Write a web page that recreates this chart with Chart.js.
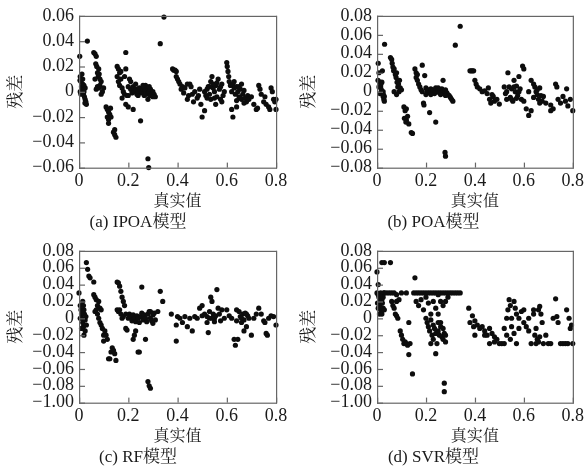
<!DOCTYPE html>
<html><head><meta charset="utf-8">
<script src="https://cdn.jsdelivr.net/npm/chart.js@4.4.0/dist/chart.umd.min.js"></script>
<style>html,body{margin:0;padding:0;background:#fff;}canvas{position:absolute}</style>
</head><body>
<canvas id="ca" width="293" height="235" style="left:0;top:0"></canvas>
<canvas id="cb" width="294" height="235" style="left:293px;top:0"></canvas>
<canvas id="cc" width="293" height="236" style="left:0;top:235px"></canvas>
<canvas id="cd" width="294" height="236" style="left:293px;top:235px"></canvas>
<script>
const captions = ['(a) IPOA模型', '(b) POA模型', '(c) RF模型', '(d) SVR模型'];
const xTitle = '真实值';
const yTitle = '残差';
const xTickValues = [0, 0.2, 0.4, 0.6, 0.8];
const xTickLabels = ['0', '0.2', '0.4', '0.6', '0.8'];
const yTickValuesA = [-0.06, -0.04, -0.02, 0, 0.02, 0.04, 0.06];
const yTickLabelsA = ['−0.06', '−0.04', '−0.02', '0', '0.02', '0.04', '0.06'];
const yTickValuesB = [-0.08, -0.06, -0.04, -0.02, 0, 0.02, 0.04, 0.06, 0.08];
const yTickLabelsB = ['−0.08', '−0.06', '−0.04', '−0.02', '0', '0.02', '0.04', '0.06', '0.08'];
const yTickValuesCD = [-0.1, -0.08, -0.06, -0.04, -0.02, 0, 0.02, 0.04, 0.06, 0.08];
const yTickLabelsCD = ['−1.00', '−0.08', '−0.06', '−0.04', '−0.02', '0', '0.02', '0.04', '0.06', '0.08'];

// [真实值, 残差]
const ipoaPoints = [[0.003,0.028],[0.005,0.012],[0.008,0.008],[0.01,0.004],[0.012,0.002],[0.015,0.006],[0.018,-0.002],[0.02,0],[0.02,0.005],[0.022,-0.004],[0.025,-0.006],[0.025,0.003],[0.028,-0.008],[0.03,-0.01],[0.012,0.014],[0.015,0.01],[0.018,0.001],[0.005,0.0],[0.008,-0.002],[0.004,0.009],[0.034,0.04],[0.024,-0.009],
[0.06,0.031],[0.065,0.03],[0.07,0.028],[0.068,0.022],[0.072,0.02],[0.075,0.015],[0.078,0.012],[0.08,0.018],[0.085,0.01],[0.09,0.008],[0.075,0.004],[0.07,0.002],[0.08,0.003],[0.085,0.005],[0.09,-0.002],[0.095,0.0],[0.065,0.01],[0.1,0.003],[0.082,0.014],
[0.11,-0.012],[0.115,-0.014],[0.12,-0.016],[0.115,-0.02],[0.12,-0.022],[0.125,-0.018],[0.13,-0.02],[0.12,-0.025],[0.14,-0.032],[0.145,-0.034],[0.15,-0.036],[0.145,-0.03],[0.128,-0.013],
[0.155,0.02],[0.16,0.018],[0.165,0.015],[0.155,0.012],[0.16,0.008],[0.165,0.005],[0.17,0.01],[0.175,0.003],[0.18,0.0],[0.185,-0.002],[0.19,0.031],[0.185,0.012],[0.19,0.018],[0.195,-0.003],[0.19,-0.01],[0.2,-0.012],[0.2,-0.003],[0.175,-0.005],[0.2,0.004],[0.17,0.016],
[0.205,0.01],[0.21,0.008],[0.21,0.002],[0.215,-0.001],[0.22,0.004],[0.225,0.0],[0.23,0.002],[0.235,-0.002],[0.24,0.001],[0.245,0.003],[0.25,0.0],[0.255,-0.001],[0.26,0.002],[0.265,0.004],[0.27,0.001],[0.275,-0.002],[0.28,0.003],[0.285,0.0],[0.29,0.002],[0.295,-0.003],[0.3,0.0],[0.305,-0.002],[0.31,-0.004],[0.22,-0.014],[0.25,-0.023],[0.28,-0.006],[0.265,-0.003],[0.24,-0.003],[0.23,0.006],[0.27,0.005],[0.29,-0.003],[0.3,-0.004],[0.26,0.005],[0.285,0.004],
[0.28,-0.053],[0.283,-0.06],[0.33,0.038],[0.345,0.059],
[0.38,0.018],[0.385,0.017],[0.39,0.017],[0.395,0.016],[0.4,0.01],[0.395,0.012],[0.405,0.008],[0.41,0.006],[0.42,0.004],[0.415,0.002],[0.425,-0.001],[0.43,0.003],[0.44,0.006],[0.445,-0.003],[0.45,0.006],[0.455,0.004],[0.46,-0.002],[0.465,-0.008],[0.47,0.0],[0.48,-0.005],[0.485,-0.003],[0.49,0.002],[0.495,-0.01],[0.5,-0.02],[0.44,-0.006],
[0.51,0.0],[0.515,-0.003],[0.52,0.002],[0.525,0.004],[0.53,-0.002],[0.535,0.008],[0.54,0.012],[0.545,0.003],[0.55,0.0],[0.555,0.005],[0.56,-0.004],[0.565,0.01],[0.57,0.002],[0.575,-0.006],[0.58,0.006],[0.585,-0.003],[0.59,0.0],[0.535,-0.006],[0.55,-0.005],[0.53,0.004],[0.52,-0.005],[0.545,0.006],[0.56,0.007],[0.575,0.004],[0.58,-0.008],[0.555,-0.01],[0.51,-0.015],
[0.6,0.023],[0.602,0.02],[0.605,0.016],[0.608,0.012],[0.61,0.008],[0.615,0.005],[0.62,0.0],[0.625,0.006],[0.63,0.003],[0.635,-0.002],[0.64,0.004],[0.645,0.0],[0.65,-0.004],[0.655,0.002],[0.66,-0.006],[0.665,-0.002],[0.67,0.001],[0.675,-0.005],[0.68,-0.008],[0.685,-0.003],[0.69,-0.006],[0.62,-0.014],[0.625,-0.02],[0.64,-0.012],[0.65,0.004],[0.66,0.006],[0.67,-0.009],[0.655,-0.005],[0.64,-0.007],[0.63,0.008],
[0.7,-0.004],[0.71,-0.01],[0.72,-0.014],[0.725,-0.013],[0.73,0.005],[0.735,0.002],[0.74,-0.002],[0.75,-0.008],[0.755,-0.004],[0.76,-0.01],[0.77,-0.012],[0.775,-0.014],[0.78,0.003],[0.785,0.0],[0.79,-0.006],[0.795,-0.008],[0.8,-0.014],[0.8,-0.006]];

const poaPoints = [[0.005,0.03],[0.008,0.02],[0.012,0.01],[0.015,0.005],[0.02,0.0],[0.022,0.022],[0.025,-0.005],[0.028,-0.008],[0.03,-0.01],[0.008,0.005],[0.018,0.002],[0.02,0.01],[0.025,0.0],[0.03,-0.005],[0.012,-0.002],[0.004,0.012],[0.016,0.008],[0.026,-0.003],[0.031,0.05],
[0.055,0.036],[0.06,0.034],[0.062,0.03],[0.065,0.026],[0.07,0.024],[0.075,0.018],[0.078,0.015],[0.08,0.02],[0.082,0.01],[0.085,0.005],[0.088,0.008],[0.09,0.0],[0.092,0.012],[0.095,0.004],[0.07,0.0],[0.08,-0.003],[0.1,0.002],[0.068,0.022],
[0.11,-0.016],[0.115,-0.02],[0.12,-0.018],[0.112,-0.028],[0.12,-0.03],[0.125,-0.026],[0.13,-0.034],[0.14,-0.043],[0.145,-0.044],[0.118,-0.032],
[0.155,0.024],[0.16,0.02],[0.16,0.015],[0.165,0.012],[0.17,0.008],[0.175,0.005],[0.18,0.002],[0.185,0.028],[0.185,0.0],[0.19,-0.012],[0.192,-0.014],[0.195,0.017],[0.2,0.004],[0.2,-0.003],[0.215,-0.022],[0.24,-0.032],[0.165,0.018],
[0.205,0.0],[0.21,0.002],[0.215,-0.001],[0.22,0.003],[0.225,0.0],[0.23,0.002],[0.235,-0.002],[0.24,0.001],[0.245,0.003],[0.25,0.0],[0.255,-0.001],[0.26,0.002],[0.265,0.003],[0.27,0.012],[0.27,0.0],[0.275,-0.002],[0.28,0.002],[0.285,-0.001],[0.29,-0.003],[0.295,-0.004],[0.3,-0.006],[0.305,-0.008],[0.31,-0.01],[0.22,-0.003],[0.24,0.004],[0.26,-0.003],[0.28,-0.004],[0.25,0.004],
[0.278,-0.064],[0.28,-0.068],[0.32,0.049],[0.34,0.069],
[0.38,0.022],[0.385,0.022],[0.39,0.022],[0.395,0.022],[0.4,0.012],[0.405,0.008],[0.41,0.005],[0.42,0.003],[0.43,0.0],[0.44,0.001],[0.45,-0.002],[0.455,0.004],[0.46,-0.008],[0.47,-0.003],[0.475,-0.005],[0.48,-0.01],[0.49,-0.008],[0.5,-0.013],[0.465,-0.012],
[0.52,0.005],[0.53,0.0],[0.535,0.02],[0.54,0.005],[0.545,-0.006],[0.55,0.003],[0.555,-0.01],[0.56,0.012],[0.565,0.0],[0.57,0.006],[0.575,-0.004],[0.58,0.016],[0.585,0.003],[0.59,-0.008],[0.595,0.027],[0.6,0.024],[0.6,-0.01],[0.53,-0.008],[0.55,-0.008],[0.56,0.005],[0.525,-0.002],[0.57,-0.007],[0.58,0.0],
[0.61,-0.018],[0.62,-0.025],[0.63,-0.02],[0.64,0.008],[0.645,0.005],[0.65,0.0],[0.655,-0.003],[0.66,-0.008],[0.665,0.004],[0.67,-0.004],[0.675,-0.01],[0.68,-0.005],[0.69,-0.012],[0.64,-0.006],[0.655,0.002],[0.665,-0.012],[0.62,0.0],[0.63,0.012],
[0.71,-0.014],[0.72,-0.018],[0.73,0.008],[0.735,0.005],[0.74,-0.008],[0.75,-0.012],[0.76,-0.005],[0.77,-0.01],[0.775,0.003],[0.78,-0.015],[0.79,-0.008],[0.8,-0.02],[0.71,-0.02]];

const rfPoints = [[0.0,0.03],[0.005,0.015],[0.008,0.01],[0.01,0.005],[0.012,0.0],[0.015,-0.005],[0.018,-0.01],[0.02,-0.02],[0.025,-0.015],[0.015,0.02],[0.02,0.01],[0.022,0.005],[0.025,-0.002],[0.03,-0.008],[0.01,-0.012],[0.005,0.0],[0.018,0.015],[0.028,0.002],[0.012,0.008],
[0.03,0.066],[0.035,0.058],[0.04,0.05],[0.045,0.048],[0.06,0.043],
[0.06,0.028],[0.065,0.025],[0.07,0.022],[0.075,0.015],[0.08,0.02],[0.085,0.012],[0.09,0.01],[0.075,0.005],[0.08,0.0],[0.085,-0.005],[0.09,-0.008],[0.095,-0.012],[0.1,-0.02],[0.065,0.008],[0.07,0.01],
[0.105,-0.015],[0.11,-0.02],[0.115,-0.025],[0.12,-0.048],[0.125,-0.048],[0.13,-0.04],[0.135,-0.035],[0.14,-0.038],[0.145,-0.042],[0.15,-0.05],[0.1,-0.027],
[0.155,0.043],[0.16,0.042],[0.165,0.038],[0.17,0.032],[0.175,0.025],[0.18,0.02],[0.185,0.015],[0.155,0.01],[0.16,0.008],[0.17,0.005],[0.165,0.01],[0.175,0.0],[0.18,0.002],[0.19,-0.012],[0.195,-0.014],[0.19,0.005],[0.2,0.0],
[0.205,0.005],[0.21,0.002],[0.215,-0.003],[0.22,0.004],[0.225,0.0],[0.23,-0.004],[0.235,0.003],[0.24,0.0],[0.245,-0.005],[0.25,0.002],[0.255,0.006],[0.26,-0.002],[0.265,0.004],[0.27,0.0],[0.275,-0.004],[0.28,0.005],[0.285,0.008],[0.29,0.0],[0.295,-0.003],[0.3,0.004],[0.305,0.006],[0.31,-0.002],[0.3,-0.006],[0.29,0.008],
[0.255,0.037],[0.22,-0.025],[0.24,-0.04],[0.245,-0.04],[0.27,-0.025],[0.225,-0.02],[0.23,-0.015],[0.28,-0.075],[0.285,-0.08],[0.29,-0.083],[0.33,0.032],[0.34,0.02],[0.32,0.008],
[0.375,0.005],[0.395,-0.008],[0.4,0.002],[0.395,-0.027],[0.41,0.0],[0.42,-0.005],[0.43,0.002],[0.44,-0.01],[0.45,0.0],[0.46,-0.015],[0.47,0.002],[0.48,0.0],[0.49,0.012],[0.5,0.015],[0.5,0.003],
[0.51,0.005],[0.52,-0.005],[0.525,-0.017],[0.53,0.008],[0.535,0.025],[0.54,0.02],[0.545,0.005],[0.55,0.0],[0.555,0.003],[0.56,0.034],[0.565,0.012],[0.57,0.005],[0.575,-0.003],[0.58,0.01],[0.59,0.0],[0.6,0.01],[0.53,0.0],[0.55,-0.004],[0.54,0.0],[0.52,0.002],
[0.61,0.003],[0.62,0.0],[0.63,-0.025],[0.635,-0.032],[0.645,-0.025],[0.65,0.008],[0.655,0.002],[0.66,-0.005],[0.665,0.005],[0.67,-0.002],[0.675,0.006],[0.68,-0.01],[0.685,0.003],[0.69,0.0],[0.7,-0.02],[0.64,0.01],[0.66,0.0],[0.68,0.005],[0.64,-0.003],[0.67,-0.015],
[0.71,0.0],[0.72,0.005],[0.73,0.012],[0.74,0.005],[0.75,-0.003],[0.76,-0.018],[0.765,-0.02],[0.77,0.0],[0.78,0.003],[0.79,0.002],[0.8,-0.008],[0.755,-0.005]];

const svrPoints = [[0.0,0.055],[0.005,0.04],[0.02,0.066],[0.03,0.066],[0.055,0.066],
[0.0,0.03],[0.005,0.028],[0.008,0.025],[0.01,0.02],[0.012,0.015],[0.015,0.01],[0.018,0.008],[0.02,0.022],[0.022,0.018],[0.025,0.012],[0.028,0.03],[0.03,0.03],[0.005,0.012],[0.01,0.005],[0.015,0.03],[0.02,0.005],[0.025,0.025],[0.03,0.01],[0.002,0.018],[0.012,0.026],
[0.04,0.03],[0.05,0.03],[0.06,0.03],[0.07,0.03],[0.08,0.028],[0.1,0.03],[0.12,0.03],[0.06,0.02],[0.065,0.015],[0.07,0.012],[0.08,0.02],[0.09,0.022],[0.075,0.005],[0.08,0.003],[0.085,0.0],
[0.095,-0.015],[0.1,-0.02],[0.105,-0.025],[0.11,-0.03],[0.115,-0.028],[0.12,-0.03],[0.125,-0.032],[0.13,-0.005],[0.13,-0.043],[0.135,-0.03],[0.145,-0.066],
[0.15,0.03],[0.16,0.03],[0.17,0.03],[0.18,0.03],[0.19,0.03],[0.2,0.03],[0.21,0.03],[0.22,0.03],[0.23,0.03],[0.24,0.03],[0.25,0.03],[0.26,0.03],[0.27,0.03],[0.28,0.03],[0.29,0.03],[0.3,0.03],[0.31,0.03],[0.32,0.03],[0.33,0.03],[0.34,0.03],[0.155,0.048],
[0.16,0.02],[0.17,0.015],[0.18,0.022],[0.19,0.01],[0.2,0.025],[0.21,0.018],[0.22,0.005],[0.23,0.02],[0.24,0.012],[0.25,0.028],[0.26,0.02],[0.27,0.015],[0.28,0.02],[0.29,0.025],[0.25,0.005],
[0.2,0.0],[0.205,-0.005],[0.21,-0.01],[0.215,-0.015],[0.22,-0.002],[0.225,-0.02],[0.23,-0.008],[0.235,-0.012],[0.24,-0.018],[0.245,-0.03],[0.25,-0.015],[0.255,-0.02],[0.26,-0.01],[0.265,-0.022],[0.27,-0.025],[0.275,-0.018],[0.28,-0.028],[0.22,-0.03],[0.23,-0.025],[0.25,-0.005],[0.24,-0.042],[0.275,-0.077],[0.275,-0.087],[0.26,-0.005],[0.27,-0.012],[0.28,-0.02],
[0.375,0.012],[0.38,-0.005],[0.39,0.003],[0.395,-0.01],[0.4,-0.02],[0.4,-0.003],[0.41,-0.008],[0.42,-0.012],[0.43,-0.01],[0.44,-0.015],[0.45,-0.02],[0.46,-0.03],[0.47,-0.018],[0.48,-0.022],[0.49,-0.025],[0.5,-0.03],[0.44,-0.02],[0.46,-0.012],[0.48,-0.028],
[0.51,-0.03],[0.52,-0.03],[0.53,-0.02],[0.54,0.022],[0.545,0.015],[0.535,0.01],[0.55,0.0],[0.56,0.02],[0.565,0.012],[0.57,0.005],[0.53,0.0],[0.52,-0.012],[0.55,-0.01],[0.56,-0.018],[0.57,-0.03],[0.58,0.0],[0.59,0.008],[0.6,0.01],[0.6,-0.005],[0.545,-0.025],[0.58,-0.012],
[0.61,-0.01],[0.62,-0.015],[0.63,-0.03],[0.64,0.005],[0.645,-0.02],[0.65,-0.03],[0.655,-0.025],[0.66,0.01],[0.665,0.014],[0.67,0.005],[0.675,-0.005],[0.68,-0.03],[0.69,-0.02],[0.7,-0.03],[0.64,0.01],[0.65,-0.012],[0.66,-0.028],[0.665,-0.022],[0.62,0.0],
[0.71,-0.03],[0.72,0.0],[0.73,0.023],[0.735,0.002],[0.74,-0.005],[0.75,-0.03],[0.76,-0.03],[0.77,-0.03],[0.775,0.01],[0.78,-0.03],[0.79,-0.012],[0.8,-0.03],[0.785,0.0],[0.795,-0.008]];

const FONT = '"Liberation Serif", "Noto Serif CJK SC", "Noto Sans CJK SC", serif';
const TEXT_COLOR = '#1a1a1a';

// frame + inward tick marks, positioned through the chart's own scales
const framePlugin = {
  id: 'frame',
  afterDraw(chart) {
    const {ctx, chartArea: a, scales} = chart;
    ctx.save();
    ctx.fillStyle = '#666';
    ctx.fillRect(a.left, a.top, a.right - a.left + 1, 1.2);
    ctx.fillRect(a.left, a.bottom, a.right - a.left + 1, 1.2);
    ctx.fillRect(a.left, a.top, 1.2, a.bottom - a.top + 1);
    ctx.fillRect(a.right, a.top, 1.2, a.bottom - a.top + 1);
    scales.x.ticks.forEach(t => {
      const px = scales.x.getPixelForValue(t.value);
      ctx.fillRect(px, a.bottom - 5, 1.2, 5);
    });
    scales.y.ticks.forEach(t => {
      const py = scales.y.getPixelForValue(t.value);
      ctx.fillRect(a.left, py, 6, 1.2);
    });
    ctx.restore();
  }
};

function makeChart(id, points, yVals, yLabels, caption, leftW, rightPad, capPadBottom) {
  const ctx = document.getElementById(id);
  return new Chart(ctx, {
    type: 'scatter',
    data: {datasets: [{
      data: points.map(p => ({x: p[0], y: p[1]})),
      backgroundColor: '#0d0d0d', borderWidth: 0,
      pointRadius: 2.6, pointHoverRadius: 2.6, clip: false
    }]},
    options: {
      responsive: false, animation: false,
      layout: {padding: {left: 0, right: rightPad, top: 13, bottom: 0}},
      plugins: {
        legend: {display: false}, tooltip: {enabled: false},
        title: {display: true, position: 'bottom', text: caption, color: TEXT_COLOR,
          font: {family: FONT, size: 17, weight: 'normal'}, padding: {top: 0, bottom: capPadBottom}}
      },
      scales: {
        x: {
          type: 'linear', min: 0, max: 0.8,
          afterBuildTicks: s => { s.ticks = xTickValues.map(v => ({value: v})); },
          ticks: {callback: (v, i) => xTickLabels[i], color: TEXT_COLOR, font: {family: FONT, size: 18},
            padding: 3, maxRotation: 0, autoSkip: false},
          grid: {display: false, drawTicks: false},
          border: {display: false},
          title: {display: true, text: xTitle, color: TEXT_COLOR, font: {family: FONT, size: 16}, padding: {top: 0, bottom: 1}},
          afterFit: s => { s.height = 45; }
        },
        y: {
          type: 'linear', min: yVals[0], max: yVals[yVals.length - 1],
          afterBuildTicks: s => { s.ticks = yVals.map(v => ({value: v})); },
          ticks: {callback: (v, i) => yLabels[i], color: TEXT_COLOR, font: {family: FONT, size: 18},
            padding: 5, autoSkip: false},
          grid: {display: false, drawTicks: false},
          border: {display: false},
          title: {display: true, text: yTitle, color: TEXT_COLOR, font: {family: FONT, size: 17}, padding: {top: 6, bottom: 0}},
          afterFit: s => { s.width = leftW; }
        }
      }
    },
    plugins: [framePlugin]
  });
}

makeChart('ca', ipoaPoints, yTickValuesA, yTickLabelsA, captions[0], 79, 17, 2);
makeChart('cb', poaPoints, yTickValuesB, yTickLabelsB, captions[1], 84, 13, 2);
makeChart('cc', rfPoints, yTickValuesCD, yTickLabelsCD, captions[2], 79, 17, 3);
makeChart('cd', svrPoints, yTickValuesCD, yTickLabelsCD, captions[3], 84, 13, 3);
</script>
</body></html>
